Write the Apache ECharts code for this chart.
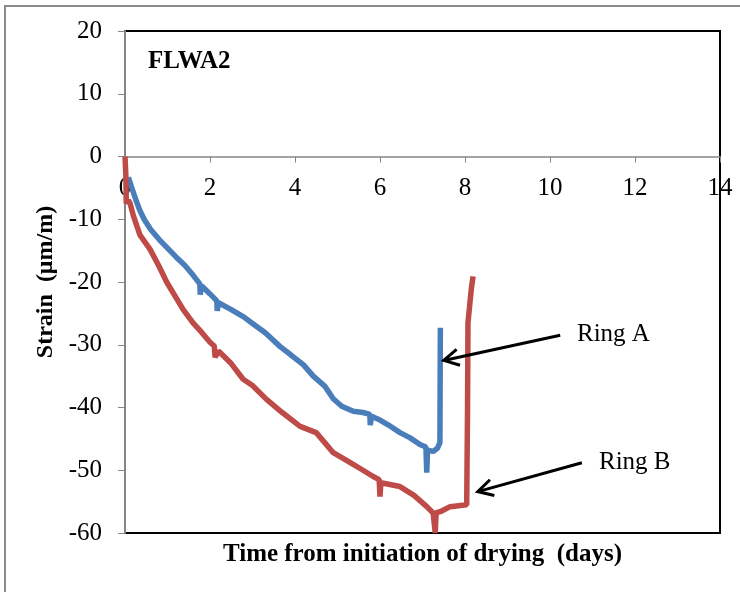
<!DOCTYPE html>
<html>
<head>
<meta charset="utf-8">
<script src="https://cdn.jsdelivr.net/npm/echarts@6/dist/echarts.min.js"></script>
<style>
html, body { margin: 0; padding: 0; background: #fff; }
#chart { width: 740px; height: 592px; }
</style>
</head>
<body>
<div id="chart"></div>
<script>
// x ticks / y ticks
var xTicks = [0, 2, 4, 6, 8, 10, 12, 14];
var yTicks = [-60, -50, -40, -30, -20, -10, 0, 10, 20];

// Ring A (blue)
var ringADays = [0.08, 0.15, 0.25, 0.35, 0.45, 0.6, 0.8, 1.0, 1.2, 1.4, 1.6, 1.76, 1.77, 1.8, 2.0, 2.16, 2.17, 2.2, 2.5, 2.8,
    3.0, 3.3, 3.65, 3.9, 4.2, 4.43, 4.7, 4.9, 5.1, 5.37, 5.6, 5.76, 5.77, 5.8, 6.0, 6.2, 6.47, 6.7,
    6.94, 7.08, 7.1, 7.12, 7.25, 7.35, 7.41, 7.42];
var ringAStrain = [-3.3, -4.8, -6.8, -8.6, -10.0, -11.6, -13.2, -14.6, -16.0, -17.3, -18.9, -20.3, -22.0, -20.6, -21.9, -23.0, -24.6, -23.3, -24.4, -25.6,
    -26.6, -28.1, -30.3, -31.6, -33.2, -35.0, -36.6, -38.6, -39.8, -40.6, -40.8, -41.1, -42.8, -41.4, -42.0, -42.8, -44.0, -44.8,
    -45.9, -46.3, -50.4, -46.8, -47.0, -46.5, -45.6, -27.3];

// Ring B (red)
var ringBDays = [0.0, 0.02, 0.03, 0.08, 0.12, 0.2, 0.35, 0.59, 0.8, 0.98, 1.2, 1.37, 1.6, 1.8, 2.0, 2.1, 2.12, 2.2,
    2.5, 2.78, 3.0, 3.33, 3.7, 4.12, 4.5, 4.9, 5.3, 5.6, 5.84, 5.98, 6.0, 6.02, 6.47, 6.8, 7.1, 7.25,
    7.3, 7.32, 7.45, 7.65, 8.04, 8.06, 8.07, 8.15, 8.19];
var ringBStrain = [0, -3.0, -7.5, -7.0, -7.5, -9.5, -12.5, -14.8, -17.5, -20.0, -22.5, -24.4, -26.5, -28.0, -29.6, -30.2, -32.0, -31.0,
    -33.0, -35.5, -36.5, -38.7, -40.8, -43.0, -44.0, -47.2, -48.8, -50.0, -51.0, -51.5, -54.2, -52.0, -52.6, -54.0, -55.8, -56.8,
    -60.0, -56.8, -56.5, -55.8, -55.5, -40.0, -26.5, -21.0, -19.1];

// annotation arrows (tail -> head, in data units)
var arrowA = [[10.24, -28.5], [7.5, -32.5]];
var arrowB = [[10.75, -48.8], [8.3, -53.4]];

var serif = 'Liberation Serif';

function pairs(xs, ys) {
    var ret = [];
    for (var i = 0; i < xs.length; i++) {
        ret.push([xs[i], ys[i]]);
    }
    return ret;
}

function arrowShapes(chart, pts) {
    var p0 = chart.convertToPixel({ gridIndex: 0 }, pts[0]);
    var p1 = chart.convertToPixel({ gridIndex: 0 }, pts[1]);
    var dx = p0[0] - p1[0], dy = p0[1] - p1[1];
    var len = Math.sqrt(dx * dx + dy * dy);
    var ux = dx / len, uy = dy / len;
    var ang = 0.5, hl = 17;
    var c = Math.cos(ang), s = Math.sin(ang);
    var a1 = [p1[0] + hl * (ux * c - uy * s), p1[1] + hl * (ux * s + uy * c)];
    var a2 = [p1[0] + hl * (ux * c + uy * s), p1[1] + hl * (-ux * s + uy * c)];
    var st = { stroke: '#000', lineWidth: 3, fill: null };
    return [
        { type: 'polyline', shape: { points: [p0, p1] }, style: st, z: 20 },
        { type: 'polyline', shape: { points: [a1, p1, a2] }, style: st, z: 20 }
    ];
}

var chart = echarts.init(document.getElementById('chart'));
var option = {
    animation: false,
    backgroundColor: '#fff',
    grid: {
        left: 125, top: 31, right: 20, bottom: 59,
        show: true, borderColor: '#000', borderWidth: 2
    },
    xAxis: {
        type: 'value',
        position: 'bottom',
        offset: 0,
        min: xTicks[0], max: xTicks[xTicks.length - 1], interval: 2,
        axisLine: { onZero: false, lineStyle: { color: '#868686', width: 1.5 } },
        axisTick: { show: true, length: 6, lineStyle: { color: '#868686' } },
        axisLabel: { fontFamily: serif, fontSize: 25, color: '#000', margin: 19 },
        splitLine: { show: false }
    },
    yAxis: {
        type: 'value',
        min: yTicks[0], max: yTicks[yTicks.length - 1], interval: 10,
        name: 'Strain  (\u03bcm/m)',
        nameLocation: 'middle',
        nameGap: 64,
        nameTextStyle: { fontFamily: serif, fontSize: 24, fontWeight: 'bold', color: '#000' },
        axisLine: { show: true, lineStyle: { color: '#868686', width: 2 } },
        axisTick: { show: true, length: 7, lineStyle: { color: '#868686' } },
        axisLabel: { fontFamily: serif, fontSize: 25, color: '#000', margin: 23 },
        splitLine: { show: false }
    },
    series: [
        {
            name: 'Ring A', type: 'line', showSymbol: false,
            data: pairs(ringADays, ringAStrain),
            lineStyle: { color: '#4A7EBB', width: 5.5 },
            itemStyle: { color: '#4A7EBB' }
        },
        {
            name: 'Ring B', type: 'line', showSymbol: false,
            data: pairs(ringBDays, ringBStrain),
            lineStyle: { color: '#BE4B48', width: 5.5 },
            itemStyle: { color: '#BE4B48' }
        }
    ]
};
chart.setOption(option);

// move the x axis up to the zero line (labels follow it)
var bottomPx = chart.convertToPixel({ yAxisIndex: 0 }, yTicks[0]);
var zeroPx = chart.convertToPixel({ yAxisIndex: 0 }, 0);
chart.setOption({ xAxis: { offset: -(bottomPx - zeroPx) } });

var midX = (chart.convertToPixel({ xAxisIndex: 0 }, xTicks[0]) + chart.convertToPixel({ xAxisIndex: 0 }, xTicks[xTicks.length - 1])) / 2;

var g = [
    { type: 'rect', shape: { x: 5, y: 6, width: 900, height: 900 }, style: { fill: null, stroke: '#8c8c8c', lineWidth: 2 }, z: 0 },
    { type: 'text', left: 148, top: 49, style: { text: 'FLWA2', fontFamily: serif, fontSize: 25, fontWeight: 'bold', fill: '#000' }, z: 20 },
    { type: 'text', left: 577, top: 322, style: { text: 'Ring A', fontFamily: serif, fontSize: 25, fill: '#000' }, z: 20 },
    { type: 'text', left: 599, top: 450, style: { text: 'Ring B', fontFamily: serif, fontSize: 25, fill: '#000' }, z: 20 },
    { type: 'text', x: midX, y: 555, style: { text: 'Time from initiation of drying  (days)', fontFamily: serif, fontSize: 25, fontWeight: 'bold', fill: '#000', align: 'center', verticalAlign: 'middle' }, z: 20 }
];
g = g.concat(arrowShapes(chart, arrowA), arrowShapes(chart, arrowB));
chart.setOption({ graphic: g });
</script>
</body>
</html>
